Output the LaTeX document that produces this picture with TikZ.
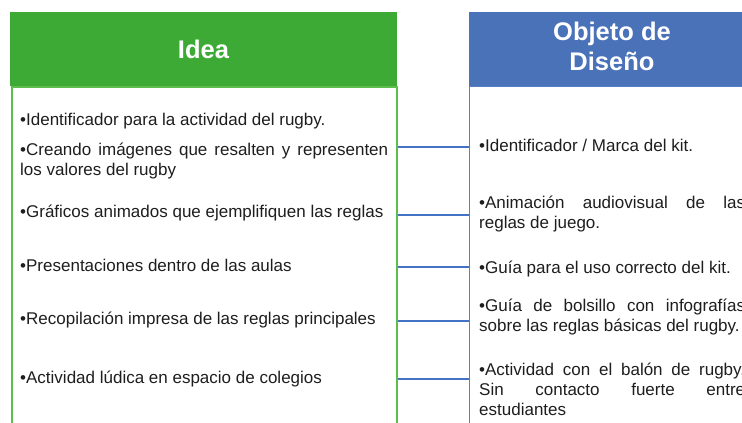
\documentclass[tikz,border=0pt]{standalone}
\usepackage{fontspec}
\setmainfont{Liberation Sans}
\definecolor{ideagreen}{HTML}{3DAA35}
\definecolor{ideaborder}{HTML}{5DBE4C}
\definecolor{objblue}{HTML}{4A72B8}
\definecolor{objborder}{HTML}{5A80C4}
\definecolor{connblue}{HTML}{4472C4}
\definecolor{txt}{HTML}{1E1E1E}
\newcommand\nohyph{\hyphenpenalty=10000\relax\exhyphenpenalty=10000\relax\tolerance=10000\relax\hbadness=10000\relax}
\begin{document}
\begin{tikzpicture}[x=1pt,y=-1pt,
  hdr/.style={inner sep=0, text=white, font=\fontsize{25.5}{30}\selectfont\bfseries, align=center, minimum height=74pt},
  body/.style={anchor=north west, inner sep=0, minimum height=360pt},
  item/.style={anchor=north west, inner sep=0, text=txt, font=\fontsize{17}{20}\selectfont, execute at begin node={\nohyph}},
  leftitem/.style={item, text width=368pt, align=justify},
  rightitem/.style={item, text width=266pt, align=justify},
  conn/.style={draw=connblue, line width=2.6pt}]
\useasboundingbox (0,0) rectangle (742,423);
\clip (0,0) rectangle (742,423);
\fill[white] (0,0) rectangle (742,423);
% bodies
\node[body, draw=ideaborder, line width=2pt, minimum width=385pt] (ideabody) at (11,86) {};
\node[body, draw=objborder, line width=1.3pt, minimum width=300pt] (objbody) at (469,86) {};
% headers
\node[hdr, fill=ideagreen, minimum width=387pt] (ideahead) at (203.5,49) {Idea};
\node[hdr, fill=objblue, minimum width=286pt] (objhead) at (612,49) {Objeto de\\Diseño\vphantom{j}};
% left items
\node[leftitem] (l1) at (20,111) {\strut•Identificador para la actividad del rugby.};
\node[leftitem] (l2) at (20,141) {\strut•Creando imágenes que resalten y representen\linebreak los valores del rugby};
\node[leftitem] (l3) at (20,203) {\strut•Gráficos animados que ejemplifiquen las reglas};
\node[leftitem] (l4) at (20,257) {\strut•Presentaciones dentro de las aulas};
\node[leftitem] (l5) at (20,310) {\strut•Recopilación impresa de las reglas principales};
\node[leftitem] (l6) at (20,369) {\strut•Actividad lúdica en espacio de colegios};
% right items
\node[rightitem] (r1) at (479,137) {\strut•Identificador / Marca del kit.};
\node[rightitem] (r2) at (479,194) {\strut•Animación audiovisual de las\linebreak reglas de juego.};
\node[rightitem] (r3) at (479,259) {\strut•Guía para el uso correcto del kit.};
\node[rightitem] (r4) at (479,297) {\strut•Guía de bolsillo con infografías\linebreak sobre las reglas básicas del rugby.};
\node[rightitem] (r5) at (479,361) {\strut•Actividad con el balón de rugby.\linebreak Sin contacto fuerte entre\linebreak estudiantes};
% connectors
\coordinate (c1) at (0,147);
\coordinate (c2) at (0,215);
\coordinate (c3) at (0,267);
\coordinate (c4) at (0,321);
\coordinate (c5) at (0,379);
\foreach \c in {c1,c2,c3,c4,c5}
  \draw[conn] (ideabody.east |- \c) -- (objbody.west |- \c);
\end{tikzpicture}
\end{document}
